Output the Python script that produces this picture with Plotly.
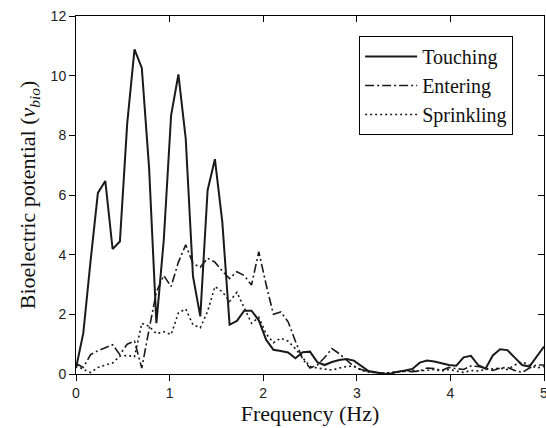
import plotly.graph_objects as go

freq = [0.0, 0.078, 0.156, 0.234, 0.313, 0.391, 0.469, 0.547, 0.625, 0.703,
        0.781, 0.859, 0.938, 1.016, 1.094, 1.172, 1.25, 1.328, 1.406, 1.484,
        1.563, 1.641, 1.719, 1.797, 1.875, 1.953, 2.031, 2.109, 2.188, 2.266,
        2.344, 2.422, 2.5, 2.578, 2.656, 2.734, 2.813, 2.891, 2.969, 3.047,
        3.125, 3.203, 3.281, 3.359, 3.438, 3.516, 3.594, 3.672, 3.75, 3.828,
        3.906, 3.984, 4.063, 4.141, 4.219, 4.297, 4.375, 4.453, 4.531, 4.609,
        4.688, 4.766, 4.844, 4.922, 5.0]

touching = [0.2, 1.37, 3.8, 6.07, 6.47, 4.19, 4.44, 8.39, 10.88, 10.26,
            6.9, 1.7, 4.5, 8.67, 10.04, 7.9, 3.27, 1.93, 6.16, 7.2,
            5.1, 1.65, 1.78, 2.12, 2.12, 1.8, 1.15, 0.81, 0.77, 0.72,
            0.53, 0.73, 0.75, 0.4, 0.3, 0.4, 0.47, 0.5, 0.45, 0.28,
            0.1, 0.06, 0.01, 0.01, 0.08, 0.12, 0.17, 0.38, 0.45, 0.42,
            0.36, 0.3, 0.28, 0.56, 0.61, 0.3, 0.18, 0.62, 0.83, 0.8,
            0.55, 0.3, 0.25, 0.6, 0.92]

entering = [0.35, 0.22, 0.65, 0.78, 0.88, 0.98, 0.65, 1.0, 1.1, 0.2,
            1.5, 2.75, 3.3, 2.93, 3.75, 4.33, 3.7, 3.58, 3.88, 3.75,
            3.45, 3.2, 3.43, 3.3, 2.98, 4.1, 3.0, 2.0, 2.08, 1.75,
            1.1, 0.5, 0.2, 0.3, 0.55, 0.85, 0.68, 0.45, 0.25, 0.15,
            0.08, 0.05, 0.03, 0.05, 0.08, 0.1, 0.08, 0.1, 0.2, 0.18,
            0.12, 0.22, 0.18, 0.15, 0.27, 0.25, 0.2, 0.12, 0.2, 0.22,
            0.12, 0.05, 0.2, 0.3, 0.3]

sprinkling = [0.3, 0.15, 0.05, 0.22, 0.3, 0.37, 0.6, 0.62, 0.58, 1.7,
              1.6, 1.35, 1.42, 1.32, 2.05, 2.18, 1.65, 1.55, 2.1, 2.93,
              2.76, 2.43, 2.74, 2.2, 1.7, 1.9, 1.35, 1.05, 1.2, 1.1,
              0.85, 0.55, 0.25, 0.2, 0.17, 0.13, 0.2, 0.25, 0.27, 0.12,
              0.06, 0.04, 0.02, 0.03, 0.06, 0.1, 0.12, 0.1, 0.12, 0.15,
              0.1, 0.15, 0.1, 0.05, 0.12, 0.1, 0.15, 0.18, 0.2, 0.15,
              0.3, 0.4, 0.3, 0.2, 0.25]

x_ticks = [0, 1, 2, 3, 4, 5]
y_ticks = [0, 2, 4, 6, 8, 10, 12]

serif = "Liberation Serif, Times New Roman, serif"
sans = "Liberation Sans, Arial, sans-serif"

fig = go.Figure()
fig.add_trace(go.Scatter(x=freq, y=touching, mode="lines", name="Touching",
                         line=dict(color="#1a1a1a", width=2, dash="solid")))
fig.add_trace(go.Scatter(x=freq, y=entering, mode="lines", name="Entering",
                         line=dict(color="#1a1a1a", width=1.6, dash="9px,3px,2px,3px")))
fig.add_trace(go.Scatter(x=freq, y=sprinkling, mode="lines", name="Sprinkling",
                         line=dict(color="#1a1a1a", width=1.6, dash="2px,3px")))
# overlay trace to carry the inward-pointing top/right tick axes
fig.add_trace(go.Scatter(x=freq, y=touching, mode="lines", xaxis="x2", yaxis="y2",
                         line=dict(width=0, color="rgba(0,0,0,0)"), showlegend=False,
                         hoverinfo="skip"))

fig.update_layout(
    width=546, height=428,
    margin=dict(l=76, r=2, t=16, b=54),
    paper_bgcolor="white", plot_bgcolor="white",
    showlegend=True,
    legend=dict(x=0.605, y=0.944, xanchor="left", yanchor="top",
                bgcolor="white", bordercolor="black", borderwidth=1,
                font=dict(family=serif, size=20, color="#111"),
                itemwidth=52, tracegroupgap=0),
    xaxis=dict(range=[0, 5], tickvals=x_ticks, ticks="outside", ticklen=6,
               tickcolor="black", showline=True, linecolor="black", linewidth=1,
               mirror=True, showgrid=False, zeroline=False, automargin=False,
               ticklabeloverflow="allow",
               tickfont=dict(family=sans, size=14, color="#222"),
               title=dict(text="Frequency (Hz)", standoff=4,
                          font=dict(family=serif, size=22, color="#111"))),
    yaxis=dict(range=[0, 12], tickvals=y_ticks, ticks="outside", ticklen=6,
               tickcolor="black", showline=True, linecolor="black", linewidth=1,
               mirror=True, showgrid=False, zeroline=False, automargin=False,
               ticklabeloverflow="allow",
               tickfont=dict(family=sans, size=14, color="#222"),
               title=dict(text="Bioelectric potential (<i>v</i><sub><i>bio</i></sub>)",
                          standoff=8,
                          font=dict(family=serif, size=22, color="#111"))),
    xaxis2=dict(overlaying="x", side="top", range=[0, 5], tickvals=x_ticks,
                ticks="inside", ticklen=6, tickcolor="black", showticklabels=False,
                showline=False, showgrid=False, zeroline=False, anchor="y",
                automargin=False),
    yaxis2=dict(overlaying="y", side="right", range=[0, 12], tickvals=y_ticks,
                ticks="inside", ticklen=6, tickcolor="black", showticklabels=False,
                showline=False, showgrid=False, zeroline=False, anchor="x",
                automargin=False),
)

fig.write_html("out.html",
               config={"displayModeBar": False},
               post_script="document.body.style.margin='0';"
                           "document.body.style.overflow='hidden';")
